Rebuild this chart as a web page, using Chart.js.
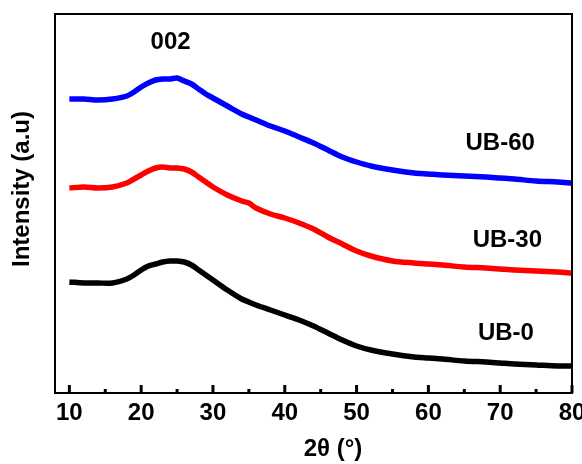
<!DOCTYPE html>
<html>
<head>
<meta charset="utf-8">
<script src="https://cdn.jsdelivr.net/npm/chart.js@4.4.1/dist/chart.umd.min.js"></script>
<style>
  html, body { margin: 0; padding: 0; background: #ffffff; }
  #wrap { width: 582px; height: 464px; }
</style>
</head>
<body>
<div id="wrap"><canvas id="xrdChart" width="582" height="464"></canvas></div>
<script>
// 2theta positions (deg)
const angles = [10,12,14,16,18,19,20,21,22,23,24,25,26,27,28,29,30,32,34,35,36,38,40,42,44,46,48,50,52,55,58,60,62,65,68,70,72,75,78,80];

// intensities, arbitrary units (curves are offset like in the figure)
const ub60 = [294,294,293,294,297,301,306,310,313,314,314,315,312,309,304,299,295,287,279,276,273,267,262,256,250,243,236,231,227,223,220,219,218,217,216,215,214,212,211,210];
const ub30 = [205,206,205,206,210,214,218,222,225,226,225,225,224,221,216,211,206,198,192,190,185,179,175,170,164,156,149,142,137,132,130,129,128,126,125,124,123,122,121,120];
const ub0  = [111,110,110,110,114,118,123,127,129,131,132,132,131,128,123,118,113,103,94,91,88,83,78,73,67,60,53,47,43,39,36,35,34,32,31,30,29,28,27,27];

const majorTicks = [10,20,30,40,50,60,70,80];
const minorTicks = [15,25,35,45,55,65,75];

// text labels placed in data units
const labels = [
  { text: '002',   x: 24.1, y: 351 },
  { text: 'UB-60', x: 70.0, y: 250 },
  { text: 'UB-30', x: 71.0, y: 153 },
  { text: 'UB-0',  x: 70.8, y: 60 }
];

const FONT = 'bold 24px "Liberation Sans", Arial, sans-serif';

function toPoints(ys) {
  return angles.map((a, i) => ({ x: a, y: ys[i] }));
}

const frame = {
  id: 'frame',
  afterDraw(chart) {
    const ctx = chart.ctx;
    const a = chart.chartArea;
    const xs = chart.scales.x;
    const ys = chart.scales.y;
    ctx.save();
    ctx.strokeStyle = '#000';
    ctx.lineWidth = 2;
    ctx.strokeRect(a.left, a.top, a.right - a.left, a.bottom - a.top);

    // inward ticks on the bottom axis
    ctx.lineWidth = 3;
    majorTicks.forEach(v => {
      const px = xs.getPixelForValue(v);
      ctx.beginPath();
      ctx.moveTo(px, a.bottom);
      ctx.lineTo(px, a.bottom - 8);
      ctx.stroke();
    });
    minorTicks.forEach(v => {
      const px = xs.getPixelForValue(v);
      ctx.beginPath();
      ctx.moveTo(px, a.bottom);
      ctx.lineTo(px, a.bottom - 4);
      ctx.stroke();
    });

    ctx.fillStyle = '#000';
    ctx.font = FONT;
    ctx.textAlign = 'center';
    ctx.textBaseline = 'middle';
    labels.forEach(l => {
      ctx.fillText(l.text, xs.getPixelForValue(l.x), ys.getPixelForValue(l.y));
    });

    // axis titles
    ctx.fillText('2θ (°)', 333, 449);
    ctx.translate(22, 189);
    ctx.rotate(-Math.PI / 2);
    ctx.fillText('Intensity (a.u)', 0, 0);
    ctx.restore();
  }
};

const lineStyle = {
  borderWidth: 5.5,
  pointRadius: 0,
  tension: 0.3
};

new Chart(document.getElementById('xrdChart'), {
  type: 'line',
  data: {
    datasets: [
      { label: 'UB-60', data: toPoints(ub60), borderColor: '#0000ff', ...lineStyle },
      { label: 'UB-30', data: toPoints(ub30), borderColor: '#ff0000', ...lineStyle },
      { label: 'UB-0',  data: toPoints(ub0),  borderColor: '#000000', ...lineStyle }
    ]
  },
  options: {
    responsive: false,
    animation: false,
    layout: {
      padding: { left: 55, top: 14, right: 10, bottom: 31 }
    },
    plugins: {
      legend: { display: false },
      tooltip: { enabled: false }
    },
    scales: {
      x: {
        type: 'linear',
        min: 8,
        max: 80,
        grid: { display: false, drawTicks: false },
        border: { display: false },
        afterBuildTicks: (scale) => {
          scale.ticks = majorTicks.map(v => ({ value: v }));
        },
        afterFit: (scale) => {
          scale.paddingLeft = 0;
          scale.paddingRight = 0;
          scale.height = 40;
        },
        ticks: {
          padding: 6,
          maxRotation: 0,
          autoSkip: false,
          color: '#000',
          font: { family: '"Liberation Sans", Arial, sans-serif', size: 24, weight: 'bold' }
        }
      },
      y: {
        min: 0,
        max: 379,
        grid: { display: false, drawTicks: false },
        border: { display: false },
        ticks: { display: false }
      }
    }
  },
  plugins: [frame]
});
</script>
</body>
</html>
